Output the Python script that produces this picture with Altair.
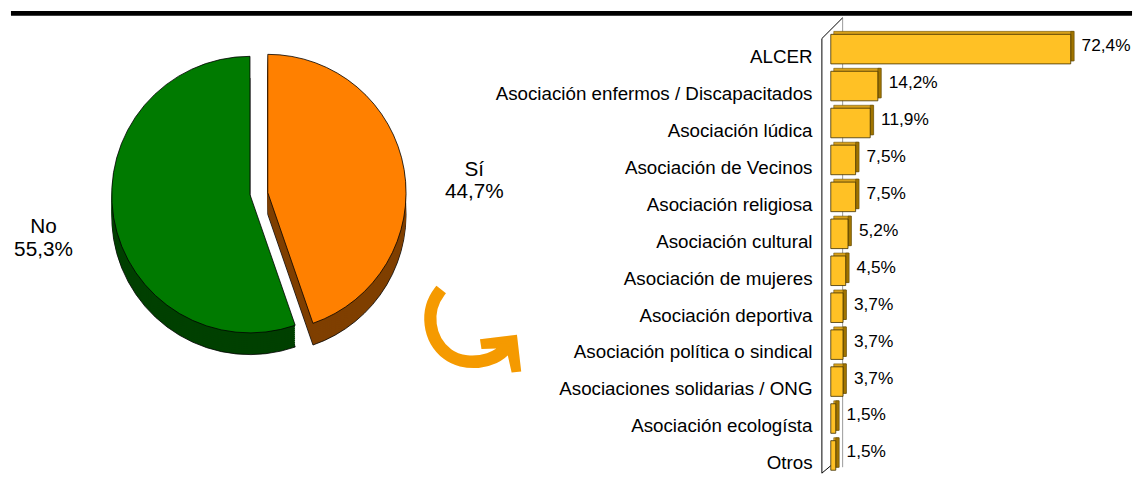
import altair as alt
import numpy as np
import pandas as pd

# ---------------- data ----------------
pie_cats = ["Sí", "No"]
pie_vals = [44.7, 55.3]

bar_cats = [
    "ALCER",
    "Asociación enfermos / Discapacitados",
    "Asociación lúdica",
    "Asociación de Vecinos",
    "Asociación religiosa",
    "Asociación cultural",
    "Asociación de mujeres",
    "Asociación deportiva",
    "Asociación política o sindical",
    "Asociaciones solidarias / ONG",
    "Asociación ecologísta",
    "Otros",
]
bar_vals = [72.4, 14.2, 11.9, 7.5, 7.5, 5.2, 4.5, 3.7, 3.7, 3.7, 1.5, 1.5]

FONT = "Liberation Sans"

# ---------------- pie ----------------
end = np.cumsum(pie_vals)
start = end - np.array(pie_vals)
pie_df = pd.DataFrame({
    "cat": pie_cats,
    "value": pie_vals,
    "start": start,
    "end": end,
    "mid": (start + end) / 2,
})
pie_df["label"] = [f"{c}\n{v:.1f}%".replace(".", ",") for c, v in zip(pie_cats, pie_vals)]

theta_scale = alt.Scale(domain=[0, 100], range=[0, 2 * np.pi])
R = 140
DEPTH = 22
centers = {"No": (242, 186), "Sí": (260, 184)}
top_col = {"No": "#007A00", "Sí": "#FF8000"}
side_col = {"No": "#004000", "Sí": "#7F3F00"}
label_dy = {"No": -2, "Sí": 12}

one = pd.DataFrame({"k": [0]})
base = alt.Chart(pie_df)

left_layers = [
    alt.Chart(one).mark_rule(color="black", strokeWidth=5).encode(
        x=alt.value(0), x2=alt.value(1135), y=alt.value(2.5)
    )
]

# side (depth) of the pie
for cat in ["Sí", "No"]:
    cx, cy = centers[cat]
    for d in range(DEPTH, 0, -2):
        kw = dict(radius=R, fill=side_col[cat])
        if d == DEPTH:
            kw.update(stroke="black", strokeWidth=0.8)
        else:
            kw.update(strokeWidth=0)
        left_layers.append(
            base.transform_filter(alt.datum.cat == cat)
            .mark_arc(**kw)
            .encode(
                theta=alt.Theta("start:Q", scale=theta_scale),
                theta2="end:Q",
                x=alt.value(cx),
                y=alt.value(cy + d),
            )
        )

# top faces and labels
for cat in ["Sí", "No"]:
    cx, cy = centers[cat]
    left_layers.append(
        base.transform_filter(alt.datum.cat == cat)
        .mark_arc(radius=R, fill=top_col[cat], stroke="black", strokeWidth=0.8)
        .encode(
            theta=alt.Theta("start:Q", scale=theta_scale),
            theta2="end:Q",
            x=alt.value(cx),
            y=alt.value(cy),
        )
    )
    left_layers.append(
        base.transform_filter(alt.datum.cat == cat)
        .mark_text(radius=212, fontSize=21, font=FONT, lineBreak="\n",
                   align="center", baseline="middle", dy=label_dy[cat], color="black")
        .encode(
            theta=alt.Theta("mid:Q", scale=theta_scale),
            text="label:N",
            x=alt.value(cx),
            y=alt.value(cy),
        )
    )

# curved arrow
left_layers.append(
    alt.Chart(one).mark_text(text="⤹", fontSize=112, font="DejaVu Sans",
                             color="#F59A00", stroke="#F59A00", strokeWidth=5,
                             align="center", baseline="middle", angle=308)
    .encode(x=alt.value(462), y=alt.value(332))
)

left = alt.layer(*left_layers).properties(width=830, height=470)

# ---------------- bars ----------------
bar_df = pd.DataFrame({"cat": bar_cats, "v": bar_vals})
bar_df["label"] = [f"{v:.1f}%".replace(".", ",") for v in bar_vals]

y_enc = alt.Y(
    "cat:N",
    sort=bar_cats,
    scale=alt.Scale(range=[20, 468.8], paddingInner=0.2, paddingOuter=0.1),
    axis=alt.Axis(title=None, domain=False, ticks=False, grid=False,
                  labelPadding=19, labelFontSize=19, labelFont=FONT,
                  labelColor="black", labelOffset=8, labelLimit=0),
)
x_scale = alt.Scale(domain=[0, 90.9])

bbase = alt.Chart(bar_df)

wall = [
    alt.Chart(one).mark_rule(color="#999999", strokeWidth=1).encode(
        x=alt.value(12), x2=alt.value(12), y=alt.value(7), y2=alt.value(462)),
    alt.Chart(one).mark_rule(color="black", strokeWidth=1).encode(
        x=alt.value(-9), x2=alt.value(-9), y=alt.value(28), y2=alt.value(468)),
    alt.Chart(one).mark_rule(color="black", strokeWidth=1).encode(
        x=alt.value(-9), x2=alt.value(12), y=alt.value(28), y2=alt.value(7)),
    alt.Chart(one).mark_rule(color="black", strokeWidth=1).encode(
        x=alt.value(-9), x2=alt.value(3), y=alt.value(468), y2=alt.value(458)),
]

top_face = bbase.mark_bar(fill="#D9A11A", stroke="#5a4300", strokeWidth=0.5,
                          xOffset=3, x2Offset=3, yOffset=-3, y2Offset=-3).encode(
    x=alt.X("v:Q", scale=x_scale, axis=None), y=y_enc)
side_face = bbase.mark_bar(fill="#A07400", stroke="#5a4300", strokeWidth=0.5,
                           xOffset=0, x2Offset=3.5, yOffset=-3, y2Offset=-3).encode(
    x=alt.X("v:Q", scale=x_scale, axis=None), x2="v:Q", y=y_enc)
front = bbase.mark_bar(fill="#FFC125", stroke="#3d2e00", strokeWidth=0.8).encode(
    x=alt.X("v:Q", scale=x_scale, axis=None), y=y_enc)
vals = bbase.mark_text(align="left", baseline="middle", dx=11, dy=-3,
                       fontSize=17.5, font=FONT, color="black").encode(
    x=alt.X("v:Q", scale=x_scale, axis=None), y=y_enc, text="label:N")

right = alt.layer(*wall, top_face, side_face, front, vals).properties(width=305, height=470)

chart = (
    alt.hconcat(left, right, spacing=0, bounds="flush")
    .properties(padding=0)
    .configure_view(stroke=None)
)

chart.save("out.html", embed_options={"renderer": "svg", "actions": False})
